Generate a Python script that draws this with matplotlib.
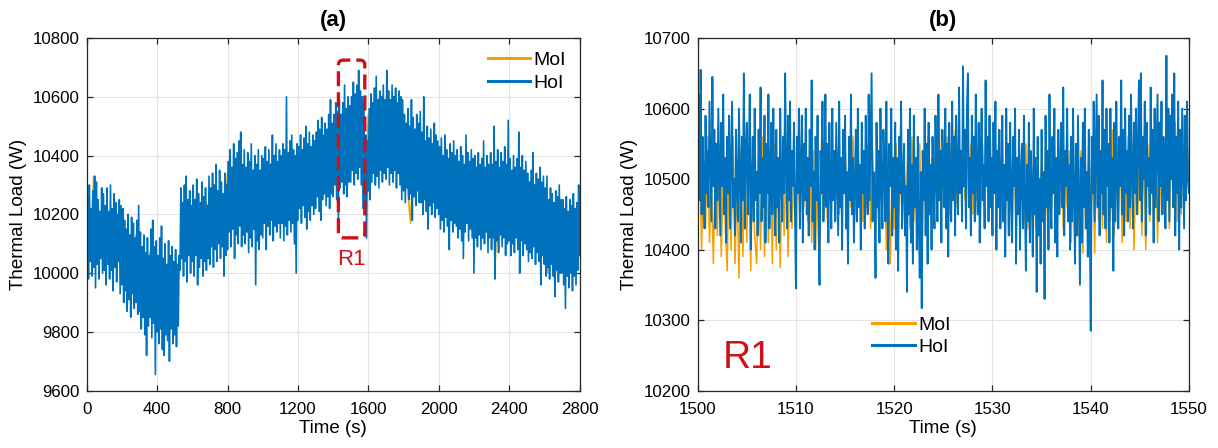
import numpy as np
import matplotlib
matplotlib.use("Agg")
import matplotlib.pyplot as plt
from matplotlib.patches import FancyBboxPatch

plt.rcParams['font.family'] = ['Liberation Sans', 'DejaVu Sans']

# ---------------- Panel (a): full record, 0-2800 s ----------------
hoi_a_step = 5  # s
hoi_a = [
    9950, 10260, 9980, 10300, 10040, 10220, 9990, 10280, 10020, 10330, 9950, 10310, 10030, 10250, 9980, 10210, 10050, 10290, 10000, 10270,
    10010, 10230, 9960, 10290, 10030, 10210, 9980, 10300, 10010, 10220, 9940, 10270, 10020, 10240, 9970, 10200, 10040, 10250, 9930, 10230,
    9960, 10220, 9900, 10180, 9940, 10150, 9870, 10200, 9910, 10130, 9850, 10190, 9930, 10170, 9880, 10120, 9900, 10180, 9860, 10230,
    9870, 10140, 9810, 10090, 9850, 10130, 9790, 10070, 9720, 10120, 9820, 10060, 9850, 10150, 9780, 10180, 9830, 10090, 9655, 10110,
    9800, 10060, 9760, 10120, 9810, 10160, 9740, 10050, 9720, 10100, 9790, 10030, 9770, 10110, 9700, 10060, 9810, 10090, 9760, 10040,
    9790, 10080, 9750, 10030, 9820, 10060, 10010, 10290, 10050, 10240, 9990, 10300, 10040, 10330, 9970, 10250, 10060, 10280, 10000, 10230,
    10040, 10300, 9990, 10250, 10060, 10320, 9960, 10270, 10020, 10240, 10050, 10310, 9990, 10260, 10040, 10290, 10010, 10230, 10050, 10330,
    10030, 10290, 10090, 10340, 10020, 10300, 10080, 10370, 10040, 10280, 10100, 10350, 10050, 10310, 10090, 10270, 9990, 10340, 10060, 10300,
    10080, 10380, 10140, 10420, 10090, 10360, 10150, 10440, 10050, 10390, 10130, 10410, 10100, 10450, 10160, 10480, 10090, 10370, 10130, 10420,
    10100, 10360, 10140, 10410, 10070, 10380, 10120, 10440, 10090, 10350, 10150, 10400, 9960, 10370, 10110, 10420, 10080, 10350, 10130, 10400,
    10120, 10390, 10170, 10430, 10080, 10380, 10160, 10420, 10130, 10370, 10180, 10470, 10110, 10400, 10160, 10440, 10140, 10380, 10170, 10420,
    10120, 10400, 10170, 10440, 10110, 10420, 10160, 10600, 10130, 10410, 10180, 10450, 10140, 10470, 10170, 10420, 10100, 10400, 10000, 10440,
    10180, 10430, 10220, 10470, 10170, 10420, 10230, 10460, 10190, 10500, 10150, 10440, 10210, 10480, 10180, 10430, 10230, 10470, 10200, 10450,
    10220, 10480, 10260, 10520, 10210, 10490, 10180, 10530, 10250, 10470, 10270, 10510, 10230, 10490, 10260, 10540, 10220, 10590, 10270, 10510,
    10260, 10540, 10300, 10580, 10250, 10550, 10180, 10590, 10290, 10540, 10310, 10580, 10270, 10640, 10300, 10560, 10260, 10600, 10310, 10570,
    10310, 10600, 10350, 10650, 10300, 10610, 10340, 10640, 10320, 10690, 10360, 10620, 10300, 10600, 10220, 10580, 10200, 10470, 10120, 10450,
    10280, 10560, 10250, 10610, 10310, 10580, 10340, 10630, 10300, 10670, 10330, 10590, 10290, 10620, 10350, 10600, 10310, 10640, 10340, 10590,
    10320, 10690, 10360, 10620, 10300, 10590, 10340, 10640, 10310, 10600, 10350, 10630, 10290, 10580, 10340, 10620, 10300, 10600, 10250, 10590,
    10280, 10540, 10240, 10510, 10290, 10560, 10250, 10500, 10270, 10590, 10180, 10530, 10260, 10490, 10230, 10540, 10280, 10510, 10240, 10550,
    10240, 10480, 10200, 10600, 10250, 10450, 10210, 10500, 10150, 10460, 10230, 10490, 10200, 10440, 10240, 10510, 10190, 10470, 10220, 10450,
    10200, 10430, 10150, 10460, 10180, 10400, 10140, 10470, 10190, 10420, 10160, 10390, 10080, 10440, 10180, 10410, 10140, 10450, 10170, 10400,
    10160, 10420, 10120, 10380, 10150, 10430, 10110, 10400, 10050, 10370, 10140, 10470, 10170, 10410, 10110, 10380, 10150, 10420, 10120, 10390,
    10000, 10400, 10120, 10360, 10090, 10410, 10130, 10370, 10080, 10390, 10120, 10450, 10100, 10360, 10140, 10400, 10070, 10370, 10120, 10410,
    10080, 10370, 10120, 10500, 9980, 10380, 10110, 10420, 10070, 10360, 10130, 10410, 10090, 10380, 10120, 10430, 10060, 10370, 10100, 10520,
    10110, 10390, 10060, 10350, 10100, 10400, 10070, 10360, 10120, 10390, 10080, 10480, 10000, 10360, 10110, 10400, 10060, 10350, 10100, 10380,
    10080, 10340, 10040, 10310, 10070, 10350, 10050, 10410, 10090, 10300, 10030, 10340, 10070, 10320, 10040, 10360, 9960, 10310, 10060, 10330,
    10030, 10290, 9990, 10330, 10020, 10250, 9980, 10290, 10030, 10270, 9990, 10240, 9920, 10280, 10010, 10260, 9970, 10300, 10000, 10250,
    10000, 10250, 9960, 10220, 9880, 10260, 9990, 10210, 9950, 10250, 10000, 10230, 9940, 10270, 9990, 10220, 9960, 10240, 10010, 10300,
    10060,
]
moi_a_step = 20  # s
moi_a = [
    10280, 10070, 10330, 10080, 10200,
    10060, 10190, 10050, 10200, 10060,
    10140, 9960, 10110, 9950, 10130,
    9900, 10060, 9860, 10070, 9880,
    10010, 9850, 9990, 9830, 9980,
    9860, 10000, 10070, 10220, 10080,
    10230, 10090, 10220, 10080, 10240,
    10120, 10270, 10130, 10260, 10110,
    10340, 10170, 10380, 10180, 10350,
    10170, 10340, 10160, 10320, 10180,
    10360, 10200, 10370, 10210, 10360,
    10200, 10370, 10190, 10380, 10180,
    10390, 10250, 10400, 10260, 10400,
    10300, 10450, 10290, 10460, 10300,
    10510, 10330, 10500, 10350, 10510,
    10380, 10570, 10380, 10560, 10250,
    10540, 10380, 10550, 10370, 10550,
    10380, 10560, 10380, 10550, 10350,
    10470, 10310, 10170, 10460, 10300,
    10420, 10270, 10410, 10270, 10420,
    10220, 10370, 10220, 10360, 10230,
    10350, 10190, 10350, 10180, 10340,
    10160, 10330, 10150, 10330, 10160,
    10340, 10020, 10330, 10150, 10340,
    10120, 10320, 10130, 10320, 10130,
    10280, 10110, 10270, 10100, 10270,
    10230, 10000, 10220, 9960, 10210,
    10030, 10180, 10020, 10170, 10030,
    10100,
]

# ---------------- Panel (b): zoom R1, 1500-1550 s ----------------
b_start = 1500
hoi_b_step = 0.1  # s
hoi_b = [
    10530, 10620, 10470, 10655, 10450, 10560, 10500, 10430, 10590, 10480,
    10540, 10460, 10610, 10520, 10440, 10645, 10490, 10570, 10430, 10550,
    10470, 10600, 10510, 10420, 10580, 10490, 10620, 10450, 10530, 10410,
    10560, 10480, 10590, 10430, 10520, 10610, 10460, 10500, 10420, 10570,
    10490, 10440, 10600, 10510, 10410, 10560, 10470, 10650, 10430, 10540,
    10580, 10450, 10520, 10620, 10400, 10490, 10560, 10440, 10600, 10470,
    10510, 10420, 10570, 10480, 10630, 10440, 10530, 10460, 10590, 10410,
    10550, 10480, 10620, 10430, 10510, 10580, 10450, 10600, 10490, 10420,
    10570, 10460, 10530, 10410, 10600, 10500, 10440, 10560, 10480, 10650,
    10520, 10430, 10590, 10470, 10610, 10440, 10540, 10490, 10580, 10450,
    10345, 10560, 10480, 10600, 10430, 10520, 10590, 10410, 10550, 10470,
    10600, 10450, 10530, 10420, 10570, 10490, 10640, 10440, 10510, 10400,
    10560, 10470, 10590, 10430, 10350, 10540, 10480, 10610, 10440, 10520,
    10620, 10460, 10550, 10410, 10580, 10490, 10430, 10600, 10470, 10540,
    10440, 10580, 10500, 10420, 10610, 10460, 10530, 10400, 10570, 10480,
    10590, 10430, 10510, 10380, 10560, 10470, 10620, 10450, 10530, 10410,
    10500, 10570, 10440, 10600, 10460, 10520, 10400, 10580, 10480, 10540,
    10430, 10590, 10500, 10450, 10620, 10470, 10560, 10650, 10440, 10510,
    10480, 10360, 10580, 10460, 10540, 10410, 10600, 10490, 10430, 10570,
    10520, 10440, 10610, 10470, 10380, 10550, 10490, 10600, 10420, 10530,
    10460, 10580, 10400, 10530, 10370, 10560, 10480, 10610, 10430, 10500,
    10550, 10420, 10490, 10340, 10570, 10450, 10600, 10410, 10520, 10380,
    10590, 10460, 10530, 10400, 10560, 10440, 10360, 10510, 10317, 10540,
    10470, 10600, 10420, 10550, 10380, 10580, 10450, 10520, 10400, 10560,
    10480, 10430, 10590, 10500, 10440, 10620, 10470, 10540, 10410, 10570,
    10520, 10460, 10600, 10430, 10550, 10390, 10580, 10490, 10440, 10610,
    10470, 10560, 10420, 10590, 10510, 10450, 10630, 10480, 10540, 10440,
    10660, 10490, 10570, 10430, 10600, 10650, 10460, 10530, 10420, 10590,
    10480, 10560, 10440, 10620, 10500, 10450, 10580, 10410, 10540, 10600,
    10470, 10520, 10430, 10640, 10490, 10560, 10440, 10590, 10460, 10530,
    10420, 10580, 10480, 10610, 10400, 10540, 10460, 10570, 10430, 10500,
    10590, 10440, 10520, 10390, 10600, 10470, 10550, 10420, 10580, 10480,
    10410, 10560, 10490, 10600, 10380, 10530, 10450, 10570, 10400, 10510,
    10550, 10430, 10590, 10470, 10370, 10520, 10440, 10580, 10410, 10540,
    10480, 10390, 10600, 10450, 10530, 10340, 10560, 10420, 10500, 10380,
    10570, 10440, 10510, 10330, 10590, 10460, 10540, 10400, 10620, 10470,
    10430, 10560, 10480, 10600, 10410, 10530, 10390, 10570, 10450, 10510,
    10580, 10460, 10630, 10420, 10540, 10490, 10600, 10440, 10520, 10400,
    10560, 10440, 10600, 10480, 10380, 10550, 10420, 10590, 10470, 10350,
    10530, 10410, 10580, 10460, 10600, 10430, 10510, 10390, 10570, 10450,
    10285, 10560, 10480, 10610, 10440, 10530, 10620, 10460, 10590, 10420,
    10540, 10480, 10640, 10450, 10570, 10430, 10600, 10490, 10550, 10410,
    10600, 10460, 10530, 10370, 10580, 10440, 10610, 10500, 10430, 10560,
    10490, 10640, 10450, 10570, 10420, 10600, 10480, 10540, 10440, 10590,
    10460, 10620, 10510, 10430, 10580, 10480, 10600, 10450, 10550, 10640,
    10470, 10650, 10440, 10560, 10500, 10610, 10420, 10580, 10490, 10530,
    10450, 10630, 10480, 10570, 10410, 10600, 10460, 10540, 10620, 10440,
    10580, 10490, 10610, 10450, 10560, 10510, 10430, 10675, 10470, 10600,
    10440, 10590, 10500, 10620, 10460, 10650, 10420, 10560, 10480, 10610,
    10400, 10570, 10460, 10600, 10510, 10430, 10590, 10470, 10610, 10500,
    10480,
]
moi_b_step = 0.2  # s
moi_b = [
    10450, 10540, 10400, 10520, 10430,
    10560, 10410, 10500, 10380, 10530,
    10420, 10550, 10390, 10510, 10440,
    10370, 10530, 10400, 10560, 10380,
    10500, 10360, 10540, 10390, 10520,
    10410, 10550, 10370, 10530, 10420,
    10380, 10510, 10400, 10560, 10390,
    10540, 10410, 10520, 10380, 10550,
    10400, 10530, 10375, 10510, 10420,
    10550, 10390, 10540, 10430, 10520,
    10450, 10560, 10430, 10530, 10460,
    10520, 10440, 10550, 10410, 10540,
    10400, 10530, 10370, 10560, 10450,
    10520, 10440, 10550, 10460, 10530,
    10470, 10540, 10450, 10520, 10480,
    10550, 10440, 10530, 10460, 10560,
    10450, 10540, 10470, 10520, 10440,
    10530, 10460, 10550, 10430, 10540,
    10450, 10520, 10440, 10550, 10460,
    10530, 10400, 10540, 10380, 10520,
    10430, 10550, 10410, 10530, 10440,
    10520, 10450, 10540, 10430, 10560,
    10440, 10530, 10470, 10550, 10360,
    10520, 10440, 10560, 10460, 10530,
    10470, 10550, 10450, 10570, 10460,
    10540, 10460, 10560, 10450, 10550,
    10470, 10570, 10460, 10550, 10480,
    10560, 10470, 10580, 10460, 10550,
    10450, 10540, 10470, 10560, 10440,
    10550, 10460, 10540, 10450, 10560,
    10440, 10530, 10460, 10550, 10430,
    10520, 10450, 10540, 10420, 10530,
    10440, 10550, 10430, 10520, 10460,
    10530, 10440, 10550, 10430, 10540,
    10450, 10520, 10430, 10540, 10460,
    10530, 10450, 10550, 10440, 10520,
    10460, 10540, 10440, 10530, 10450,
    10550, 10430, 10520, 10460, 10540,
    10410, 10530, 10400, 10550, 10420,
    10540, 10395, 10520, 10430, 10560,
    10420, 10530, 10395, 10550, 10440,
    10520, 10430, 10560, 10410, 10540,
    10440, 10570, 10420, 10530, 10430,
    10550, 10410, 10540, 10440, 10560,
    10430, 10550, 10400, 10530, 10450,
    10560, 10420, 10540, 10400, 10550,
    10440, 10570, 10430, 10550, 10410,
    10540, 10450, 10560, 10440, 10570,
    10430, 10550, 10460, 10580, 10440,
    10560, 10450, 10590, 10470, 10550,
    10510,
]

labels = ["MoI", "HoI"]
c_moi = "#F5A000"
c_hoi = "#0072BD"
red = "#CC1219"

t_hoi_a = np.arange(len(hoi_a)) * hoi_a_step
t_moi_a = np.arange(len(moi_a)) * moi_a_step
t_hoi_b = b_start + np.arange(len(hoi_b)) * hoi_b_step
t_moi_b = b_start + np.arange(len(moi_b)) * moi_b_step

fig = plt.figure(figsize=(12.18, 4.48), dpi=100)
axA = fig.add_axes([0.0712, 0.128, 0.4046, 0.787])
axB = fig.add_axes([0.5728, 0.128, 0.4034, 0.787])

def style(ax):
    ax.grid(True, color="#e3e3e3", lw=0.8)
    ax.set_axisbelow(True)
    for s in ax.spines.values():
        s.set_color("#262626")
        s.set_linewidth(0.9)
    ax.tick_params(direction="in", top=True, right=True, length=4,
                   width=0.9, color="#262626", labelsize=12.2)
    ax.tick_params(axis="x", pad=8.5)
    ax.tick_params(axis="y", pad=5)
    ax.set_xlabel("Time (s)", fontsize=13.5, labelpad=2)
    ax.set_ylabel("Thermal Load (W)", fontsize=13.5, labelpad=4)

# Panel (a)
axA.plot(t_moi_a, moi_a, color=c_moi, lw=1.2, label=labels[0])
axA.plot(t_hoi_a, hoi_a, color=c_hoi, lw=1.2, label=labels[1])
axA.set_xlim(0, 2800)
axA.set_ylim(9600, 10800)
axA.set_xticks(np.arange(0, 2801, 400))
axA.set_yticks(np.arange(9600, 10801, 200))
style(axA)
axA.set_title("(a)", fontsize=16, fontweight="bold", pad=9)
legA = axA.legend(loc="upper right", frameon=False, fontsize=14,
                  handlelength=2.2, handletextpad=0.15, borderaxespad=0.3,
                  labelspacing=0.25)
for h in legA.get_lines():
    h.set_linewidth(2.2)

# R1 dashed box in (a)
x0, x1, y0, y1 = 1430, 1580, 10120, 10725
box = FancyBboxPatch((x0, y0), x1 - x0, y1 - y0,
                     boxstyle="round,pad=0,rounding_size=28",
                     mutation_aspect=0.6, fill=False, edgecolor=red,
                     lw=2.4, linestyle=(0, (4.5, 1.8)), zorder=5)
axA.add_patch(box)
axA.text(1505, 10046, "R1", color=red, fontsize=16, ha="center", va="center")

# Panel (b)
axB.plot(t_moi_b, moi_b, color=c_moi, lw=1.1, label=labels[0])
axB.plot(t_hoi_b, hoi_b, color=c_hoi, lw=1.35, label=labels[1])
axB.set_xlim(1500, 1550)
axB.set_ylim(10200, 10700)
axB.set_xticks(np.arange(1500, 1551, 10))
axB.set_yticks(np.arange(10200, 10701, 100))
style(axB)
axB.set_title("(b)", fontsize=16, fontweight="bold", pad=9)
legB = axB.legend(loc="lower left", bbox_to_anchor=(0.32, 0.05), frameon=False,
                  fontsize=14, handlelength=2.2, handletextpad=0.15,
                  labelspacing=0.2)
for h in legB.get_lines():
    h.set_linewidth(2.2)
axB.text(1505.1, 10247, "R1", color=red, fontsize=28, ha="center", va="center")

fig.savefig("out.png", dpi=100)
